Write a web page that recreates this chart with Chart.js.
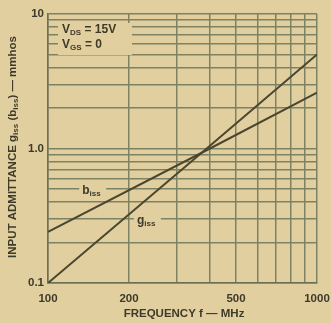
<!DOCTYPE html>
<html><head><meta charset="utf-8">
<script src="https://cdn.jsdelivr.net/npm/chart.js@4.4.0/dist/chart.umd.min.js"></script>
<style>
html,body{margin:0;padding:0;background:#e2cfa0;}
#wrap{width:331px;height:323px;position:relative;}
</style></head>
<body><div id="wrap"><canvas id="c" width="331" height="323"></canvas></div>
<script>
// Data
const frequencyMHz = [100, 400, 1000];
const gIss = [0.10, 1.05, 5.0];
const bIss = [0.24, 1.0, 2.6];
const xGridValues = [100,200,300,400,500,600,700,800,900,1000];
const xTickLabels = {100:'100',200:'200',500:'500',1000:'1000'};
const yGridValues = [0.1,0.2,0.3,0.4,0.5,0.6,0.7,0.8,0.9,1,2,3,4,5,6,7,8,9,10];
const yTickLabels = {0.1:'0.1',1:'1.0',10:'10'};

const FONT = 'Liberation Sans, Arial, sans-serif';
const TXT = '#3d3a2a';
const GRID = '#7d8263';
const LINE = '#4a4630';

const annot = {
  id:'annot',
  afterDatasetsDraw(chart){
    const {ctx, chartArea:a, scales:{x,y}} = chart;
    ctx.save();
    ctx.fillStyle = '#e2cfa0';
    ctx.fillRect(a.left+10, a.top+9, 74, 32);
    ctx.fillStyle = TXT;
    ctx.textBaseline = 'middle';
    function sub(main, s, val, px, py){
      ctx.font = 'bold 12px '+FONT;
      ctx.fillText(main, px, py);
      let w = ctx.measureText(main).width;
      ctx.font = 'bold 8px '+FONT;
      ctx.fillText(s, px+w, py+3);
      let w2 = ctx.measureText(s).width;
      if(val){ ctx.font = 'bold 12px '+FONT; ctx.fillText(val, px+w+w2, py); }
    }
    sub('V','DS',' = 15V', a.left+14, a.top+16);
    sub('V','GS',' = 0', a.left+14, a.top+31);
    const bx = x.getPixelForValue(134), by = y.getPixelForValue(0.47);
    const gx = x.getPixelForValue(214), gy = y.getPixelForValue(0.28);
    ctx.fillStyle = '#e2cfa0';
    ctx.fillRect(bx-3, by-8, 27, 14);
    ctx.fillRect(gx-3, gy-8, 27, 14);
    ctx.fillStyle = TXT;
    sub('b','iss','', bx, by-2);
    sub('g','iss','', gx, gy-2);
    ctx.font = 'bold 11.5px '+FONT;
    ctx.textAlign = 'center';
    ctx.fillText('FREQUENCY f \u2014 MHz', 184, 314);
    ctx.translate(13, 147);
    ctx.rotate(-Math.PI/2);
    ctx.textAlign = 'left';
    const parts = [['INPUT ADMITTANCE g',11.5],['iss',8],[' (b',11.5],['iss',8],[') \u2014 mmhos',11.5]];
    let total = 0;
    parts.forEach(p=>{ctx.font='bold '+p[1]+'px '+FONT; total += ctx.measureText(p[0]).width;});
    let px = -total/2;
    parts.forEach(p=>{ctx.font='bold '+p[1]+'px '+FONT; ctx.fillText(p[0], px, p[1]===8?3:0); px += ctx.measureText(p[0]).width;});
    ctx.restore();
  }
};

new Chart(document.getElementById('c'), {
  type:'line',
  data:{datasets:[
    {label:'g_iss', data: frequencyMHz.map((f,i)=>({x:f,y:gIss[i]})), borderColor:LINE, borderWidth:2, pointRadius:0, tension:0},
    {label:'b_iss', data: frequencyMHz.map((f,i)=>({x:f,y:bIss[i]})), borderColor:LINE, borderWidth:2, pointRadius:0, tension:0}
  ]},
  options:{
    responsive:false, animation:false, devicePixelRatio:1,
    layout:{padding:{top:14,right:14,left:0,bottom:0}},
    plugins:{legend:{display:false}, tooltip:{enabled:false}},
    scales:{
      x:{type:'logarithmic', min:100, max:1000,
        afterBuildTicks(s){ s.ticks = xGridValues.map(v=>({value:v})); },
        afterFit(s){ s.height = 40; s.paddingRight = 0; s.paddingLeft = 0; },
        grid:{color:GRID, lineWidth:1.5, drawTicks:false},
        border:{color:'#6f6f55', width:1.5},
        ticks:{autoSkip:false, maxRotation:0, padding:9, color:TXT, font:{family:FONT, size:11.5, weight:'bold'},
          callback(v){ return xTickLabels[v] || ''; }}
      },
      y:{type:'logarithmic', min:0.1, max:10,
        afterBuildTicks(s){ s.ticks = yGridValues.map(v=>({value:v})); },
        afterFit(s){ s.width = 48; s.paddingTop = 0; s.paddingBottom = 0; },
        grid:{color:GRID, lineWidth:1.5, drawTicks:false},
        border:{color:'#6f6f55', width:1.5},
        ticks:{autoSkip:false, padding:4, color:TXT, font:{family:FONT, size:11.5, weight:'bold'},
          callback(v){ return yTickLabels[v] || ''; }}
      }
    }
  },
  plugins:[annot]
});
</script></body></html>
